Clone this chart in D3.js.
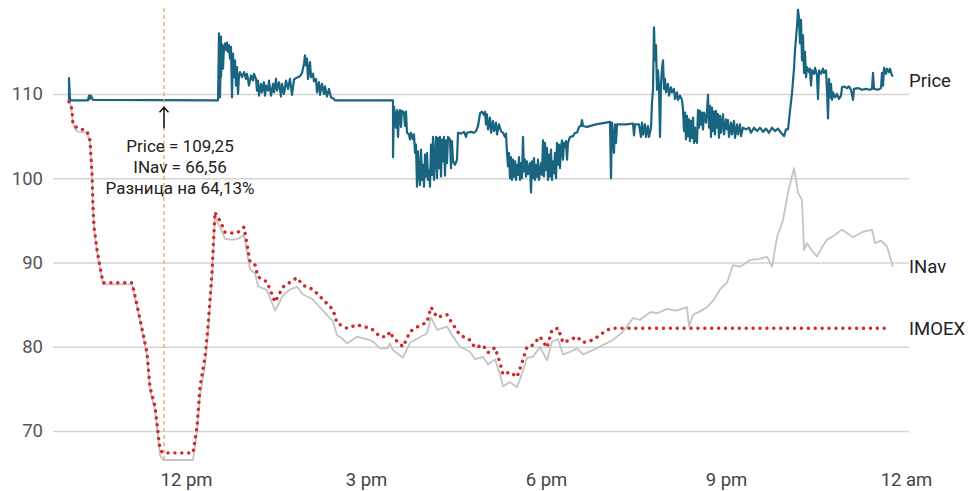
<!DOCTYPE html>
<html>
<head>
<meta charset="utf-8">
<script src="https://cdn.jsdelivr.net/npm/d3@7"></script>
<style>
  body { margin: 0; background: #fff; }
  text { font-family: Roboto, "Noto Sans", sans-serif; }
</style>
</head>
<body>
<div id="chart"></div>
<script>
var price = [
    ["10:03",109.3],["10:03",111.9],["10:04",109.4],["10:05",109.25],["10:22",109.25],["10:23",109.8],["10:24",109.4],["10:25",109.8],["10:27",109.3],["12:32",109.25],
    ["12:33",117.2],["12:33",110.0],["12:34",116.4],["12:34",109.6],["12:35",116.8],["12:35",112.0],["12:36",115.9],["12:37",113.0],["12:38",115.6],["12:39",116.0],
    ["12:40",115.2],["12:41",116.1],["12:42",115.0],["12:43",115.8],["12:44",114.2],["12:45",115.6],["12:46",109.6],["12:47",114.8],["12:48",112.0],["12:49",114.0],
    ["12:50",111.0],["12:51",113.2],["12:52",110.0],["12:53",112.2],["12:54",112.6],["12:56",112.0],["12:58",112.6],["13:00",111.8],["13:01",112.4],["13:03",111.0],
    ["13:05",112.2],["13:07",111.6],["13:08",112.4],["13:10",111.8],["13:11",110.4],["13:12",111.6],["13:13",109.8],["13:15",111.2],["13:16",110.2],["13:18",111.4],
    ["13:19",109.8],["13:20",111.0],["13:22",110.4],["13:23",111.6],["13:25",109.8],["13:27",111.2],["13:28",110.2],["13:30",111.8],["13:31",110.4],["13:33",111.4],
    ["13:35",109.7],["13:36",111.2],["13:38",110.0],["13:40",111.6],["13:42",110.6],["13:44",111.8],["13:46",109.9],["13:48",111.7],["13:50",111.9],["13:52",112.0],
    ["13:54",112.1],["13:56",112.5],["13:58",113.6],["13:59",114.6],["14:00",113.4],["14:01",114.2],["14:02",111.8],["14:04",113.8],["14:05",112.0],["14:07",112.4],
    ["14:08",111.5],["14:10",111.8],["14:11",110.2],["14:13",111.4],["14:14",109.9],["14:16",111.2],["14:18",110.0],["14:19",110.9],["14:21",109.7],["14:23",110.6],
    ["14:25",109.6],["14:27",109.5],["14:29",109.25],["15:27",109.25],["15:27",102.5],["15:28",108.5],["15:30",106.0],["15:31",108.1],["15:32",104.9],["15:33",107.8],
    ["15:34",108.1],["15:35",106.1],["15:36",108.0],["15:38",107.8],["15:39",106.2],["15:40",107.9],["15:41",105.4],["15:43",105.2],["15:44",104.6],["15:45",105.4],
    ["15:47",104.6],["15:48",105.2],["15:49",103.0],["15:50",104.0],["15:51",99.0],["15:52",103.2],["15:53",100.5],["15:54",99.2],["15:55",103.4],["15:56",99.8],
    ["15:57",101.6],["15:58",99.0],["15:59",102.8],["16:00",100.2],["16:01",103.0],["16:02",99.8],["16:03",101.0],["16:04",99.0],["16:05",104.0],["16:06",100.4],
    ["16:07",104.9],["16:08",99.8],["16:09",102.6],["16:10",104.9],["16:11",100.0],["16:12",104.8],["16:13",101.2],["16:14",104.9],["16:15",100.2],["16:16",104.6],
    ["16:17",102.0],["16:18",104.9],["16:19",100.3],["16:20",104.5],["16:21",101.8],["16:22",104.9],["16:24",104.6],["16:25",101.2],["16:26",104.4],["16:27",102.0],
    ["16:29",101.6],["16:31",102.2],["16:32",105.4],["16:35",105.3],["16:38",105.5],["16:40",104.9],["16:41",105.4],["16:45",105.5],["16:48",105.4],["16:50",105.6],
    ["16:52",106.2],["16:54",107.7],["16:56",107.9],["16:58",107.5],["16:59",107.9],["17:00",106.4],["17:01",107.6],["17:02",105.8],["17:04",107.2],["17:05",105.4],
    ["17:07",106.8],["17:08",105.6],["17:10",106.6],["17:11",105.2],["17:13",106.4],["17:15",105.6],["17:17",105.4],["17:19",104.9],["17:20",105.3],["17:21",103.0],
    ["17:22",101.4],["17:23",103.0],["17:24",100.0],["17:25",102.5],["17:26",99.8],["17:27",102.2],["17:28",100.2],["17:29",102.0],["17:30",99.8],["17:31",101.6],
    ["17:32",100.4],["17:33",102.5],["17:34",99.8],["17:35",101.8],["17:36",100.0],["17:37",104.9],["17:38",100.8],["17:39",102.2],["17:40",100.2],["17:41",102.0],
    ["17:42",100.5],["17:44",101.8],["17:45",98.3],["17:46",102.0],["17:47",100.0],["17:48",102.4],["17:49",99.8],["17:50",101.6],["17:51",100.2],["17:52",102.2],
    ["17:53",99.8],["17:55",101.8],["17:56",100.4],["17:57",104.5],["17:58",100.2],["17:59",104.2],["18:00",101.0],["18:01",103.6],["18:02",99.8],["18:03",102.8],
    ["18:04",100.2],["18:05",103.4],["18:06",99.8],["18:07",102.0],["18:08",100.6],["18:09",103.0],["18:10",100.0],["18:11",104.2],["18:12",101.6],["18:13",104.0],
    ["18:14",101.2],["18:15",103.8],["18:16",104.5],["18:17",102.2],["18:18",104.2],["18:19",103.7],["18:20",104.4],["18:21",102.2],["18:22",104.2],["18:24",104.9],
    ["18:27",105.0],["18:29",105.4],["18:31",105.4],["18:33",106.1],["18:35",106.2],["18:36",106.9],["18:37",106.2],["18:41",106.1],["18:50",106.4],["19:00",106.6],
    ["19:04",106.7],["19:05",100.0],["19:06",106.6],["19:08",103.0],["19:09",106.4],["19:10",104.2],["19:11",106.4],["19:20",106.4],["19:27",106.5],["19:28",105.1],
    ["19:29",106.4],["19:33",106.4],["19:35",104.9],["19:36",106.6],["19:37",105.2],["19:39",106.4],["19:40",104.9],["19:42",106.2],["19:43",104.9],["19:45",106.0],
    ["19:46",109.0],["19:47",110.5],["19:48",117.9],["19:49",114.0],["19:50",115.8],["19:51",110.5],["19:52",112.8],["19:53",110.8],["19:54",104.9],["19:55",111.2],
    ["19:56",113.0],["19:57",114.0],["19:58",110.6],["19:59",111.8],["20:00",110.2],["20:02",111.2],["20:03",109.8],["20:05",110.8],["20:06",110.2],["20:08",110.6],
    ["20:09",109.4],["20:11",110.2],["20:12",109.3],["20:14",109.8],["20:16",109.3],["20:17",108.2],["20:18",105.6],["20:19",107.8],["20:20",104.6],["20:21",107.4],
    ["20:22",105.0],["20:23",107.0],["20:24",104.4],["20:25",106.8],["20:26",104.8],["20:27",107.2],["20:28",104.2],["20:29",106.0],["20:30",104.5],["20:31",104.2],
    ["20:32",108.1],["20:33",106.0],["20:34",108.0],["20:35",106.4],["20:36",107.8],["20:37",105.8],["20:38",107.8],["20:40",106.6],["20:41",108.0],["20:42",109.9],
    ["20:43",106.0],["20:44",108.6],["20:45",104.9],["20:46",108.4],["20:47",105.6],["20:48",107.9],["20:49",105.2],["20:50",108.0],["20:51",106.0],["20:52",107.6],
    ["20:53",104.8],["20:54",107.4],["20:55",105.4],["20:57",107.6],["20:58",105.2],["21:00",107.0],["21:01",105.8],["21:02",106.9],["21:03",104.9],["21:05",106.6],
    ["21:06",105.2],["21:08",106.8],["21:09",104.8],["21:11",106.4],["21:12",105.2],["21:14",106.4],["21:15",105.0],["21:17",106.0],["21:20",105.8],["21:23",106.0],
    ["21:25",105.4],["21:28",106.0],["21:31",105.6],["21:34",106.0],["21:37",105.5],["21:40",105.9],["21:43",105.4],["21:46",106.0],["21:49",105.6],["21:52",105.9],
    ["21:55",105.4],["21:58",105.0],["22:00",105.8],["22:02",105.8],["22:04",108.0],["22:06",110.1],["22:08",113.0],["22:09",115.2],["22:11",118.0],["22:12",120.0],
    ["22:13",119.0],["22:14",116.0],["22:15",118.8],["22:16",114.0],["22:17",117.0],["22:18",112.5],["22:19",115.0],["22:20",112.0],["22:21",113.2],["22:23",112.6],
    ["22:24",113.0],["22:25",111.0],["22:26",112.8],["22:28",112.4],["22:29",113.1],["22:31",112.2],["22:32",109.4],["22:33",112.8],["22:35",112.4],["22:37",113.0],
    ["22:38",112.5],["22:40",112.8],["22:41",110.4],["22:42",107.1],["22:43",111.8],["22:44",109.6],["22:45",111.2],["22:46",109.3],["22:47",110.2],["22:49",109.6],
    ["22:51",110.0],["22:53",109.4],["22:55",109.8],["22:56",110.8],["22:58",110.9],["23:01",110.7],["23:03",110.9],["23:05",110.5],["23:07",109.3],["23:08",110.6],
    ["23:12",110.7],["23:16",110.5],["23:20",110.6],["23:24",110.5],["23:26",110.6],["23:27",112.5],["23:28",110.6],["23:32",110.5],["23:35",110.7],["23:36",112.5],
    ["23:37",111.0],["23:38",113.1],["23:40",112.4],["23:41",113.0],["23:43",112.6],["23:44",113.0],["23:46",112.2],["23:47",112.1]
];

var inav = [
    ["10:03",109.2],["10:05",108.6],["10:07",106.6],["10:09",105.8],["10:13",105.5],["10:21",105.4],["10:24",104.3],["10:26",100.4],["10:27",96.4],["10:28",94.0],
    ["10:31",91.3],["10:34",89.3],["10:37",87.4],["11:06",87.4],["11:12",84.2],["11:21",79.0],["11:24",74.8],["11:29",72.5],["11:34",67.1],["11:37",66.56],
    ["12:07",66.56],["12:11",69.8],["12:14",74.2],["12:19",77.8],["12:22",81.6],["12:26",88.0],["12:29",95.6],["12:31",94.8],["12:34",94.2],["12:39",92.8],
    ["12:46",92.7],["12:52",92.8],["12:58",93.3],["13:04",89.2],["13:09",88.7],["13:12",87.2],["13:21",86.7],["13:29",84.3],["13:37",86.1],["13:44",86.8],
    ["13:51",87.1],["13:57",86.2],["14:07",85.6],["14:17",84.3],["14:27",83.0],["14:31",81.4],["14:36",81.0],["14:41",80.4],["14:51",81.2],["15:04",80.8],
    ["15:07",80.6],["15:14",79.8],["15:21",79.8],["15:24",80.4],["15:27",79.6],["15:37",78.7],["15:44",80.5],["15:52",81.0],["16:01",81.6],["16:05",83.5],
    ["16:11",82.0],["16:21",82.4],["16:26",81.4],["16:34",80.0],["16:44",79.4],["16:49",78.5],["16:57",78.8],["17:02",77.9],["17:09",78.5],["17:14",76.7],
    ["17:17",75.3],["17:24",75.8],["17:31",75.2],["17:36",76.8],["17:41",78.7],["17:47",78.8],["17:54",80.0],["18:01",78.4],["18:06",80.6],["18:12",80.9],
    ["18:17",79.1],["18:24",79.4],["18:31",79.8],["18:37",79.1],["18:47",79.6],["18:57",80.2],["19:07",80.8],["19:17",81.8],["19:27",83.4],["19:34",83.2],
    ["19:44",84.1],["19:52",84.0],["20:01",84.5],["20:10",84.3],["20:21",84.7],["20:23",82.4],["20:27",83.8],["20:34",84.2],["20:41",84.7],["20:48",85.6],
    ["20:54",86.8],["21:01",87.6],["21:07",89.7],["21:14",89.5],["21:24",90.3],["21:33",90.4],["21:41",90.7],["21:46",89.5],["21:51",93.0],["21:57",95.0],
    ["22:02",98.3],["22:08",101.2],["22:12",98.3],["22:16",97.4],["22:18",91.5],["22:21",92.3],["22:26",91.4],["22:31",90.7],["22:36",91.8],["22:41",92.7],
    ["22:48",93.2],["22:56",93.9],["23:02",93.4],["23:07",93.0],["23:16",93.6],["23:26",93.9],["23:29",92.3],["23:35",92.6],["23:41",91.9],["23:47",89.5]
];

var imoex = [
    ["10:03",109.1],["10:04",109.0],["10:06",108.1],["10:07",106.4],["10:11",106.0],["10:21",105.6],["10:24",104.5],["10:26",100.6],["10:27",96.6],["10:28",94.2],
    ["10:31",91.5],["10:34",89.5],["10:37",87.6],["11:06",87.6],["11:12",84.4],["11:21",79.3],["11:24",75.2],["11:29",72.9],["11:34",67.8],["11:37",67.4],
    ["12:07",67.4],["12:11",70.5],["12:14",75.2],["12:19",78.8],["12:22",82.4],["12:26",88.8],["12:29",96.0],["12:31",95.4],["12:34",95.0],["12:39",93.6],
    ["12:46",93.5],["12:52",93.6],["12:58",94.2],["13:04",90.1],["13:09",89.7],["13:12",88.3],["13:21",87.7],["13:29",85.3],["13:37",87.1],["13:51",88.2],
    ["13:57",87.3],["14:07",86.8],["14:17",85.6],["14:27",84.4],["14:31",82.8],["14:41",82.2],["14:51",82.6],["15:04",82.2],["15:07",82.0],["15:14",81.2],
    ["15:21",81.2],["15:24",81.8],["15:27",81.1],["15:37",80.0],["15:44",81.8],["15:52",82.4],["16:01",82.9],["16:05",84.7],["16:11",83.5],["16:21",83.8],
    ["16:26",82.8],["16:34",81.4],["16:44",80.8],["16:49",79.9],["16:57",80.2],["17:02",79.3],["17:09",79.9],["17:14",78.1],["17:17",76.7],["17:24",77.0],
    ["17:31",76.4],["17:36",78.1],["17:41",80.0],["17:47",80.2],["17:54",81.2],["18:01",79.9],["18:06",82.0],["18:12",82.2],["18:17",80.5],["18:24",80.8],
    ["18:31",81.2],["18:37",80.5],["18:47",80.8],["19:01",82.0],["19:07",82.2],["23:42",82.2]
];

var yTicks = [70, 80, 90, 100, 110];
var xTicks = ["12:00", "15:00", "18:00", "21:00", "24:00"];
var xTickLabels = ["12 pm", "3 pm", "6 pm", "9 pm", "12 am"];
var seriesNames = ["Price", "INav", "IMOEX"];
var markTime = "11:38";
var markPrice = 109.25, markInav = 66.56, markDiff = 64.13;

var width = 969, height = 491;

function toMin(s) {
    var p = s.split(":");
    return +p[0] * 60 + +p[1];
}
function comma(v) { return d3.format(".2f")(v).replace(".", ","); }

var svg = d3.select("#chart")
    .append("svg")
        .attr("width", width)
        .attr("height", height);

var x = d3.scaleLinear()
    .domain([toMin("9:47"), toMin("24:03")])
    .range([53, 909]);

var y = d3.scaleLinear()
    .domain([66, 120])
    .range([464.7, 9.75]);

// grid + y labels
var yAxis = svg.append("g")
    .attr("transform", "translate(53,0)")
    .call(d3.axisLeft(y).tickValues(yTicks).tickSize(-(909 - 53)).tickPadding(10));
yAxis.select(".domain").remove();
yAxis.selectAll("line").attr("stroke", "#d4d4d4").attr("stroke-width", 1.3);
yAxis.selectAll("text")
    .attr("fill", "#555")
    .style("font-size", "18.5px")
    .style("font-family", "Roboto");

var xAxis = svg.append("g")
    .attr("transform", "translate(0,468)")
    .call(d3.axisBottom(x)
        .tickValues(xTicks.map(toMin))
        .tickSize(0)
        .tickFormat(function(d, i) { return xTickLabels[i]; }));
xAxis.select(".domain").remove();
xAxis.selectAll("text")
    .attr("y", 5)
    .attr("fill", "#444")
    .style("font-size", "18.5px")
    .style("font-family", "Roboto");

var line = d3.line()
    .x(function(d) { return x(toMin(d[0])) })
    .y(function(d) { return y(d[1]) });

svg.append("path")
    .datum(inav)
    .attr("fill", "none")
    .attr("stroke", "#c4c4c4")
    .attr("stroke-width", 1.8)
    .attr("stroke-linejoin", "round")
    .attr("d", line);

svg.append("path")
    .datum(imoex)
    .attr("fill", "none")
    .attr("stroke", "#cf2a27")
    .attr("stroke-width", 3.4)
    .attr("stroke-linecap", "round")
    .attr("stroke-dasharray", "0.1,6.8")
    .attr("d", line);

svg.append("path")
    .datum(price)
    .attr("fill", "none")
    .attr("stroke", "#19657f")
    .attr("stroke-width", 2.2)
    .attr("stroke-linejoin", "round")
    .attr("d", line);

// hover marker
var mx = x(toMin(markTime));
svg.append("line")
    .attr("x1", mx).attr("x2", mx)
    .attr("y1", 8).attr("y2", 462)
    .attr("stroke", "#f2a93b")
    .attr("stroke-width", 1.3)
    .attr("stroke-dasharray", "4,3");

svg.append("path")
    .attr("d", "M" + mx + "," + (y(markPrice) + 28) + "V" + (y(markPrice) + 7)
        + "M" + (mx - 4.5) + "," + (y(markPrice) + 12) + "L" + mx + "," + (y(markPrice) + 7)
        + "L" + (mx + 4.5) + "," + (y(markPrice) + 12))
    .attr("fill", "none")
    .attr("stroke", "#111")
    .attr("stroke-width", 1.5);

var tip = svg.append("text")
    .attr("x", mx + 16)
    .attr("text-anchor", "middle")
    .attr("fill", "#222")
    .style("font-size", "17px");
["Price = " + comma(markPrice), "INav = " + comma(markInav), "Разница на " + comma(markDiff) + "%"]
    .forEach(function(t, i) {
        tip.append("tspan")
            .attr("x", mx + 16)
            .attr("y", 152 + i * 21)
            .text(t);
    });

// series labels
[price, inav, imoex].forEach(function(s, i) {
    svg.append("text")
        .attr("x", 909)
        .attr("y", y(s[s.length - 1][1]))
        .attr("dy", i == 0 ? "0.6em" : "0.35em")
        .attr("fill", "#222")
        .style("font-size", "18.5px")
        .text(seriesNames[i]);
});
</script>
</body>
</html>
